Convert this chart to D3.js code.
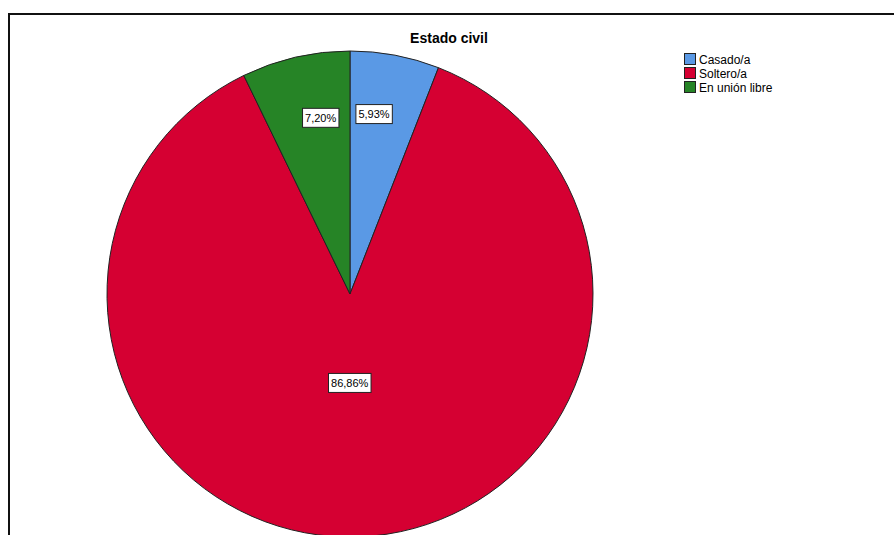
<!DOCTYPE html>
<html><head><meta charset="utf-8">
<script src="https://cdn.jsdelivr.net/npm/d3@7"></script>
<style>body{margin:0;background:#fff}svg{display:block}</style>
</head><body>
<svg id="c" width="894" height="535"></svg>
<script>
const categories = ["Casado/a", "Soltero/a", "En unión libre"];
const values = [5.93, 86.86, 7.20];
const labels = ["5,93%", "86,86%", "7,20%"];
const colors = ["#5a99e5", "#d50032", "#268426"];
const title = "Estado civil";

const svg = d3.select("#c");
// frame
svg.append("rect").attr("x", 9).attr("y", 14).attr("width", 1000).attr("height", 1000)
  .attr("fill", "none").attr("stroke", "#111").attr("stroke-width", 2);

svg.append("text").attr("x", 449).attr("y", 43).attr("text-anchor", "middle")
  .attr("font-family", "Liberation Sans, Arial, sans-serif").attr("font-weight", "bold")
  .attr("font-size", 14).attr("fill", "#000").text(title);

const cx = 350, cy = 294, r = 243;
const data = categories.map((c, i) => ({c, v: values[i], lab: labels[i], col: colors[i]}));
const pie = d3.pie().value(d => d.v).sort(null);
const arc = d3.arc().innerRadius(0).outerRadius(r);
const g = svg.append("g").attr("transform", `translate(${cx},${cy})`);
const arcs = pie(data);
g.selectAll("path").data(arcs).join("path")
  .attr("d", arc).attr("fill", d => d.data.col)
  .attr("stroke", "#222").attr("stroke-width", 1);

// label placement: radius fraction and position within the slice's angular span
const labelR = [0.747, 0.366, 0.735];
const labelT = [0.356, 0.508, 0.635];
const boxes = g.selectAll("g.lab").data(arcs).join("g").attr("class", "lab")
  .attr("transform", (d, i) => {
    const a = d.startAngle + (d.endAngle - d.startAngle) * labelT[i];
    const rr = r * labelR[i];
    return `translate(${rr * Math.sin(a)},${-rr * Math.cos(a)})`;
  });
boxes.each(function(d) {
  const gg = d3.select(this);
  const t = gg.append("text").attr("text-anchor", "middle").attr("dy", "0.35em")
    .attr("font-family", "Liberation Sans, Arial, sans-serif").attr("font-size", 11)
    .attr("fill", "#000").text(d.data.lab);
  const bb = t.node().getBBox();
  gg.insert("rect", "text").attr("x", bb.x - 2.5).attr("y", -9.5)
    .attr("width", bb.width + 5).attr("height", 19)
    .attr("fill", "#fff").attr("stroke", "#222").attr("stroke-width", 1);
});

// legend
const lg = svg.append("g").attr("transform", "translate(684,53)");
const items = lg.selectAll("g").data(data).join("g")
  .attr("transform", (d, i) => `translate(0,${i * 14})`);
items.append("rect").attr("x", 0.5).attr("y", 0.5).attr("width", 11).attr("height", 11)
  .attr("fill", d => d.col).attr("stroke", "#222").attr("stroke-width", 1);
items.append("text").attr("x", 15).attr("y", 10.5)
  .attr("font-family", "Liberation Sans, Arial, sans-serif").attr("font-size", 12)
  .attr("fill", "#000").text(d => d.c);
</script>
</body></html>
